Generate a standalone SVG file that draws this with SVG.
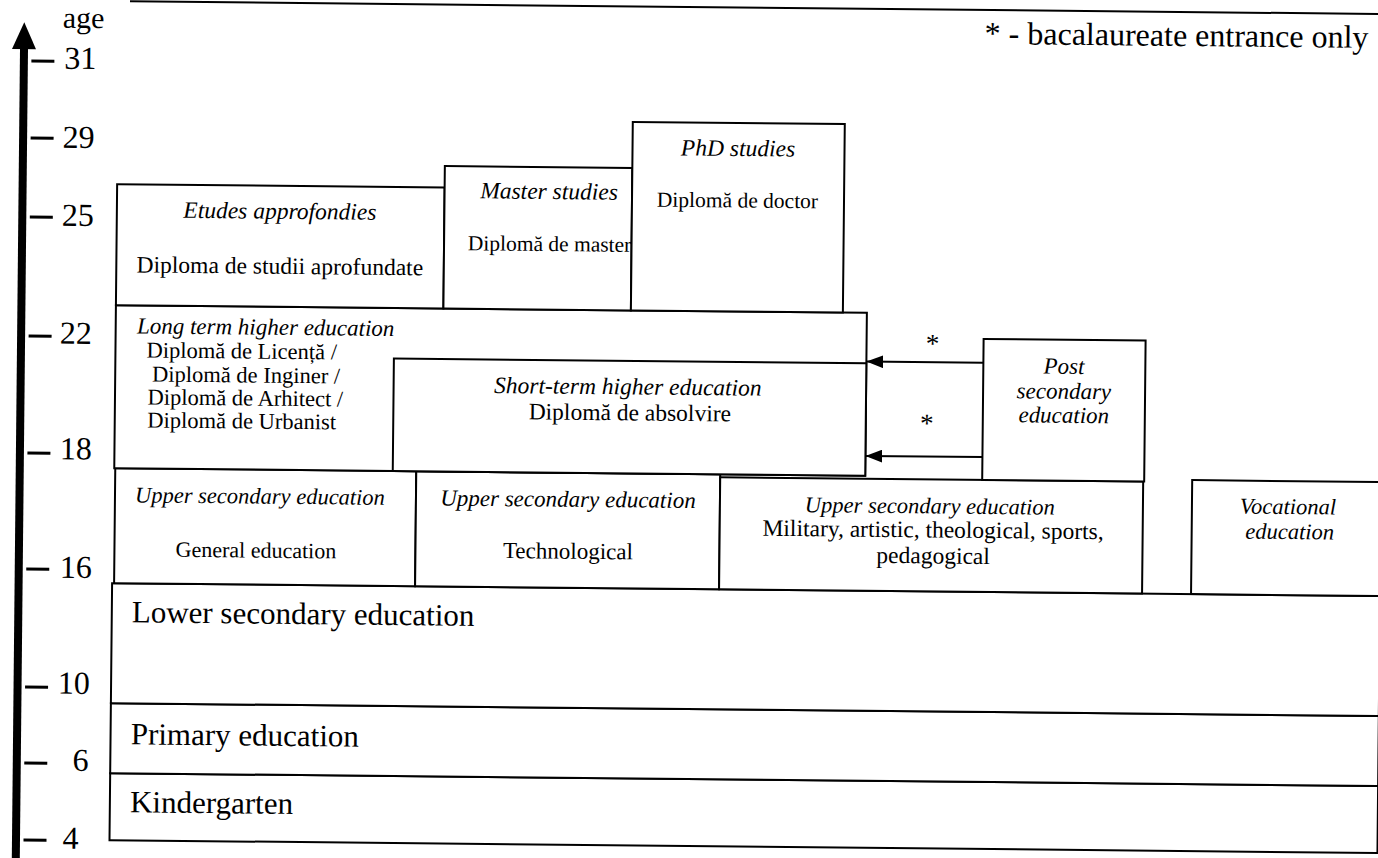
<svg xmlns="http://www.w3.org/2000/svg" width="1378" height="858" viewBox="0 0 1378 858">
<defs>
<style>
.box{fill:#fff;stroke:#000;stroke-width:2}
text{font-family:'Liberation Serif','DejaVu Serif',serif;fill:#000}
.i{font-style:italic}
.m{text-anchor:middle}
.tick{stroke:#000;stroke-width:3}
.conn{stroke:#000;stroke-width:2;fill:none}
</style>
<marker id="ah" markerWidth="17" markerHeight="13" refX="17" refY="6.5" orient="auto" markerUnits="userSpaceOnUse">
<path d="M0,0 L17,6.5 L0,13 Z" fill="#000"/>
</marker>
</defs>
<rect width="1378" height="858" fill="#fff"/>
<g transform="rotate(0.58)" font-family="Liberation Serif, DejaVu Serif, serif">
<line x1="130" y1="0" x2="1400" y2="0" stroke="#000" stroke-width="2"/>
<text x="985" y="34" font-size="32">* - bacalaureate entrance only</text>

<g id="axis">
<line x1="24.5" y1="44" x2="24.5" y2="880" stroke="#000" stroke-width="8"/>
<polygon points="24.5,22 12.5,49 36.5,49" fill="#000"/>
<text x="63" y="27" font-size="30">age</text>
<line class="tick" x1="32" y1="60.6" x2="55" y2="60.6"/><text x="65" y="68" font-size="32">31</text>
<line class="tick" x1="32" y1="137.6" x2="55" y2="137.6"/><text x="64" y="147" font-size="32">29</text>
<line class="tick" x1="32" y1="216.6" x2="55" y2="216.6"/><text x="64" y="225" font-size="32">25</text>
<line class="tick" x1="32" y1="335.6" x2="55" y2="335.6"/><text x="63.3" y="343" font-size="32">22</text>
<line class="tick" x1="32" y1="452.6" x2="55" y2="452.6"/><text x="64.4" y="458.5" font-size="32">18</text>
<line class="tick" x1="32" y1="568.6" x2="55" y2="568.6"/><text x="65.5" y="577" font-size="32">16</text>
<line class="tick" x1="32" y1="686.7" x2="55" y2="686.7"/><text x="64.7" y="693" font-size="32">10</text>
<line class="tick" x1="32" y1="762.7" x2="55" y2="762.7"/><text x="80.4" y="770" font-size="32">6</text>
<line class="tick" x1="32" y1="839.7" x2="55" y2="839.7"/><text x="71" y="848" font-size="32">4</text>
</g>

<g id="kindergarten">
<rect class="box" x="118" y="772" width="1268" height="67"/>
<text x="138.2" y="811" font-size="31">Kindergarten</text>
</g>
<g id="primary">
<rect class="box" x="118" y="702" width="1268" height="70"/>
<text x="138.2" y="743" font-size="31">Primary education</text>
</g>
<g id="lower-secondary">
<rect class="box" x="118" y="582" width="1268" height="120"/>
<text x="138" y="621" font-size="31">Lower secondary education</text>
</g>

<g id="upper-general">
<rect class="box" x="120" y="467" width="301" height="115"/>
<text class="i m" x="265" y="501" font-size="22.5">Upper secondary education</text>
<text class="m" x="261.5" y="555" font-size="22">General education</text>
</g>
<g id="upper-technological">
<rect class="box" x="421" y="467" width="304" height="115"/>
<text class="i m" x="573" y="501" font-size="23">Upper secondary education</text>
<text class="m" x="573.5" y="553" font-size="23">Technological</text>
</g>
<g id="upper-military">
<rect class="box" x="725" y="470" width="423" height="112"/>
<text class="i m" x="935" y="504" font-size="22.5">Upper secondary education</text>
<text class="m" x="938.4" y="528" font-size="23.5">Military, artistic, theological, sports,</text>
<text class="m" x="938.7" y="554" font-size="23.5">pedagogical</text>
</g>
<g id="vocational">
<rect class="box" x="1197" y="468" width="200" height="114"/>
<text class="i m" x="1293" y="501" font-size="22.5">Vocational</text>
<text class="i m" x="1295" y="526" font-size="22.5">education</text>
</g>

<g id="long-term">
<rect class="box" x="119" y="304" width="751" height="163"/>
<text class="i m" x="269" y="332" font-size="23">Long term higher education</text>
<text class="m" x="245.3" y="356" font-size="22.5">Diplomă de Licență /</text>
<text class="m" x="249.9" y="380" font-size="22.5">Diplomă de Inginer /</text>
<text class="m" x="249.4" y="403" font-size="22.5">Diplomă de Arhitect /</text>
<text class="m" x="246" y="426" font-size="22.5">Diplomă de Urbanist</text>
</g>
<g id="short-term">
<rect class="box" x="397.5" y="354.5" width="472.5" height="112.5"/>
<text class="i m" x="631.8" y="388" font-size="23.5">Short-term higher education</text>
<text class="m" x="634" y="414" font-size="23.5">Diplomă de absolvire</text>
</g>
<g id="post-secondary">
<rect class="box" x="987" y="329" width="162" height="141"/>
<text class="i m" x="1067.6" y="363" font-size="23">Post</text>
<text class="i m" x="1067.8" y="388" font-size="23">secondary</text>
<text class="i m" x="1068" y="412" font-size="23">education</text>
</g>

<g id="etudes">
<rect class="box" x="119" y="183" width="327.5" height="121"/>
<text class="i m" x="282" y="216" font-size="23.5">Etudes approfondies</text>
<text class="m" x="282.6" y="271" font-size="23.5">Diploma de studii aprofundate</text>
</g>
<g id="master">
<rect class="box" x="446.5" y="161.5" width="187.5" height="142.5"/>
<text class="i m" x="551" y="193.5" font-size="23.5">Master studies</text>
<text class="m" x="552" y="245.5" font-size="21.5">Diplomă de master</text>
</g>
<g id="phd">
<rect class="box" x="634" y="115.5" width="212" height="188.5"/>
<text class="i m" x="739.5" y="148.5" font-size="23.5">PhD studies</text>
<text class="m" x="739.5" y="200" font-size="21.5">Diplomă de doctor</text>
</g>

<g id="connectors">
<line class="conn" x1="987" y1="352.8" x2="870" y2="352.8" marker-end="url(#ah)"/>
<line class="conn" x1="987" y1="447.1" x2="870" y2="447.1" marker-end="url(#ah)"/>
<text class="m" x="936" y="343" font-size="27">*</text>
<text class="m" x="931" y="423" font-size="27">*</text>
</g>
</g>
</svg>
